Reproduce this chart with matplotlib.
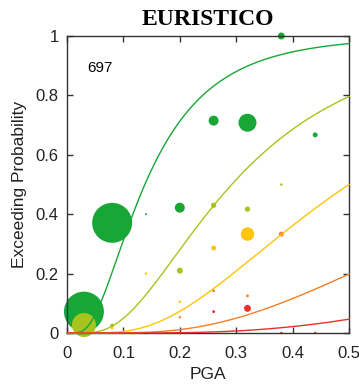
import numpy as np
import matplotlib
matplotlib.use('Agg')
import matplotlib.pyplot as plt
from math import erf, sqrt, log

# fragility curves (lognormal: median PGA, dispersion)
states = ['D1', 'D2', 'D3', 'D4', 'D5']
medians = [0.138, 0.292, 0.50, 0.86, 1.49]
betas = [0.66, 0.65, 0.63, 0.64, 0.65]
colors = ['#18a636', '#a6c41d', '#ffc40c', '#f47d26', '#e6312c']

# observed points per damage state: pga, exceeding probability, weight
pga_d1 = [0.03, 0.08, 0.14, 0.20, 0.26, 0.32, 0.38, 0.44]
prob_d1 = [0.072, 0.371, 0.40, 0.422, 0.715, 0.708, 1.0, 0.667]
n_d1 = [400, 400, 1, 25, 25, 81, 12, 6]

pga_d2 = [0.03, 0.08, 0.20, 0.26, 0.32, 0.38]
prob_d2 = [0.027, 0.025, 0.21, 0.43, 0.417, 0.50]
n_d2 = [144, 4, 9, 7, 7, 1.5]

pga_d3 = [0.08, 0.14, 0.20, 0.26, 0.32]
prob_d3 = [0.016, 0.20, 0.105, 0.286, 0.333]
n_d3 = [1.5, 1.5, 1.5, 6, 45]

pga_d4 = [0.20, 0.26, 0.32, 0.38]
prob_d4 = [0.053, 0.142, 0.125, 0.333]
n_d4 = [1.5, 2, 2, 6]

pga_d5 = [0.08, 0.14, 0.20, 0.26, 0.32, 0.38, 0.44]
prob_d5 = [0.0, 0.0, 0.0, 0.072, 0.083, 0.0, 0.0]
n_d5 = [1.5, 1.5, 1.5, 2, 12, 1.5, 1.5]

n_buildings = '697'

pts = [(pga_d1, prob_d1, n_d1), (pga_d2, prob_d2, n_d2), (pga_d3, prob_d3, n_d3),
       (pga_d4, prob_d4, n_d4), (pga_d5, prob_d5, n_d5)]


def lognorm_cdf(x, med, b):
    return np.array([0.0 if v <= 0 else 0.5 * (1 + erf(log(v / med) / (b * sqrt(2)))) for v in x])


fig = plt.figure(figsize=(3.59, 3.90), dpi=100)
ax = fig.add_axes([67 / 359, 1 - 333 / 390, 282 / 359, 297 / 390])

for (x, y, n), c in zip(pts, colors):
    ax.scatter(x, y, s=np.array(n) * 2.07, color=c, edgecolors='none', zorder=2, clip_on=False)

xx = np.linspace(0.0005, 0.5, 400)
for med, b, c in zip(medians, betas, colors):
    ax.plot(xx, lognorm_cdf(xx, med, b), color=c, lw=1.0, zorder=3, clip_on=False)

ax.set_xlim(0, 0.5)
ax.set_ylim(0, 1)
ax.set_xticks([0, 0.1, 0.2, 0.3, 0.4, 0.5])
ax.set_xticklabels(['0', '0.1', '0.2', '0.3', '0.4', '0.5'])
ax.set_yticks([0, 0.2, 0.4, 0.6, 0.8, 1])
ax.set_yticklabels(['0', '0.2', '0.4', '0.6', '0.8', '1'])
ax.tick_params(direction='in', top=True, right=True, length=4, width=1, color='#333333',
               labelsize=12, labelcolor='#222222')
ax.tick_params(axis='x', pad=9)
ax.tick_params(axis='y', pad=6)
for lab in ax.get_xticklabels() + ax.get_yticklabels():
    lab.set_fontfamily('Liberation Sans')
for sp in ax.spines.values():
    sp.set_color('#333333')
    sp.set_linewidth(1.0)

ax.set_xlabel('PGA', fontsize=12.5, family='Liberation Sans', color='#222222', labelpad=5)
ax.set_ylabel('Exceeding Probability', fontsize=12.5, family='Liberation Sans', color='#222222', labelpad=6)
ax.set_title('EURISTICO', fontsize=17, fontweight='bold', family='Liberation Serif', pad=8)
ax.text(0.0585, 0.892, n_buildings, fontsize=11, family='Liberation Sans', ha='center', va='center')

fig.savefig('out.png', dpi=100)
